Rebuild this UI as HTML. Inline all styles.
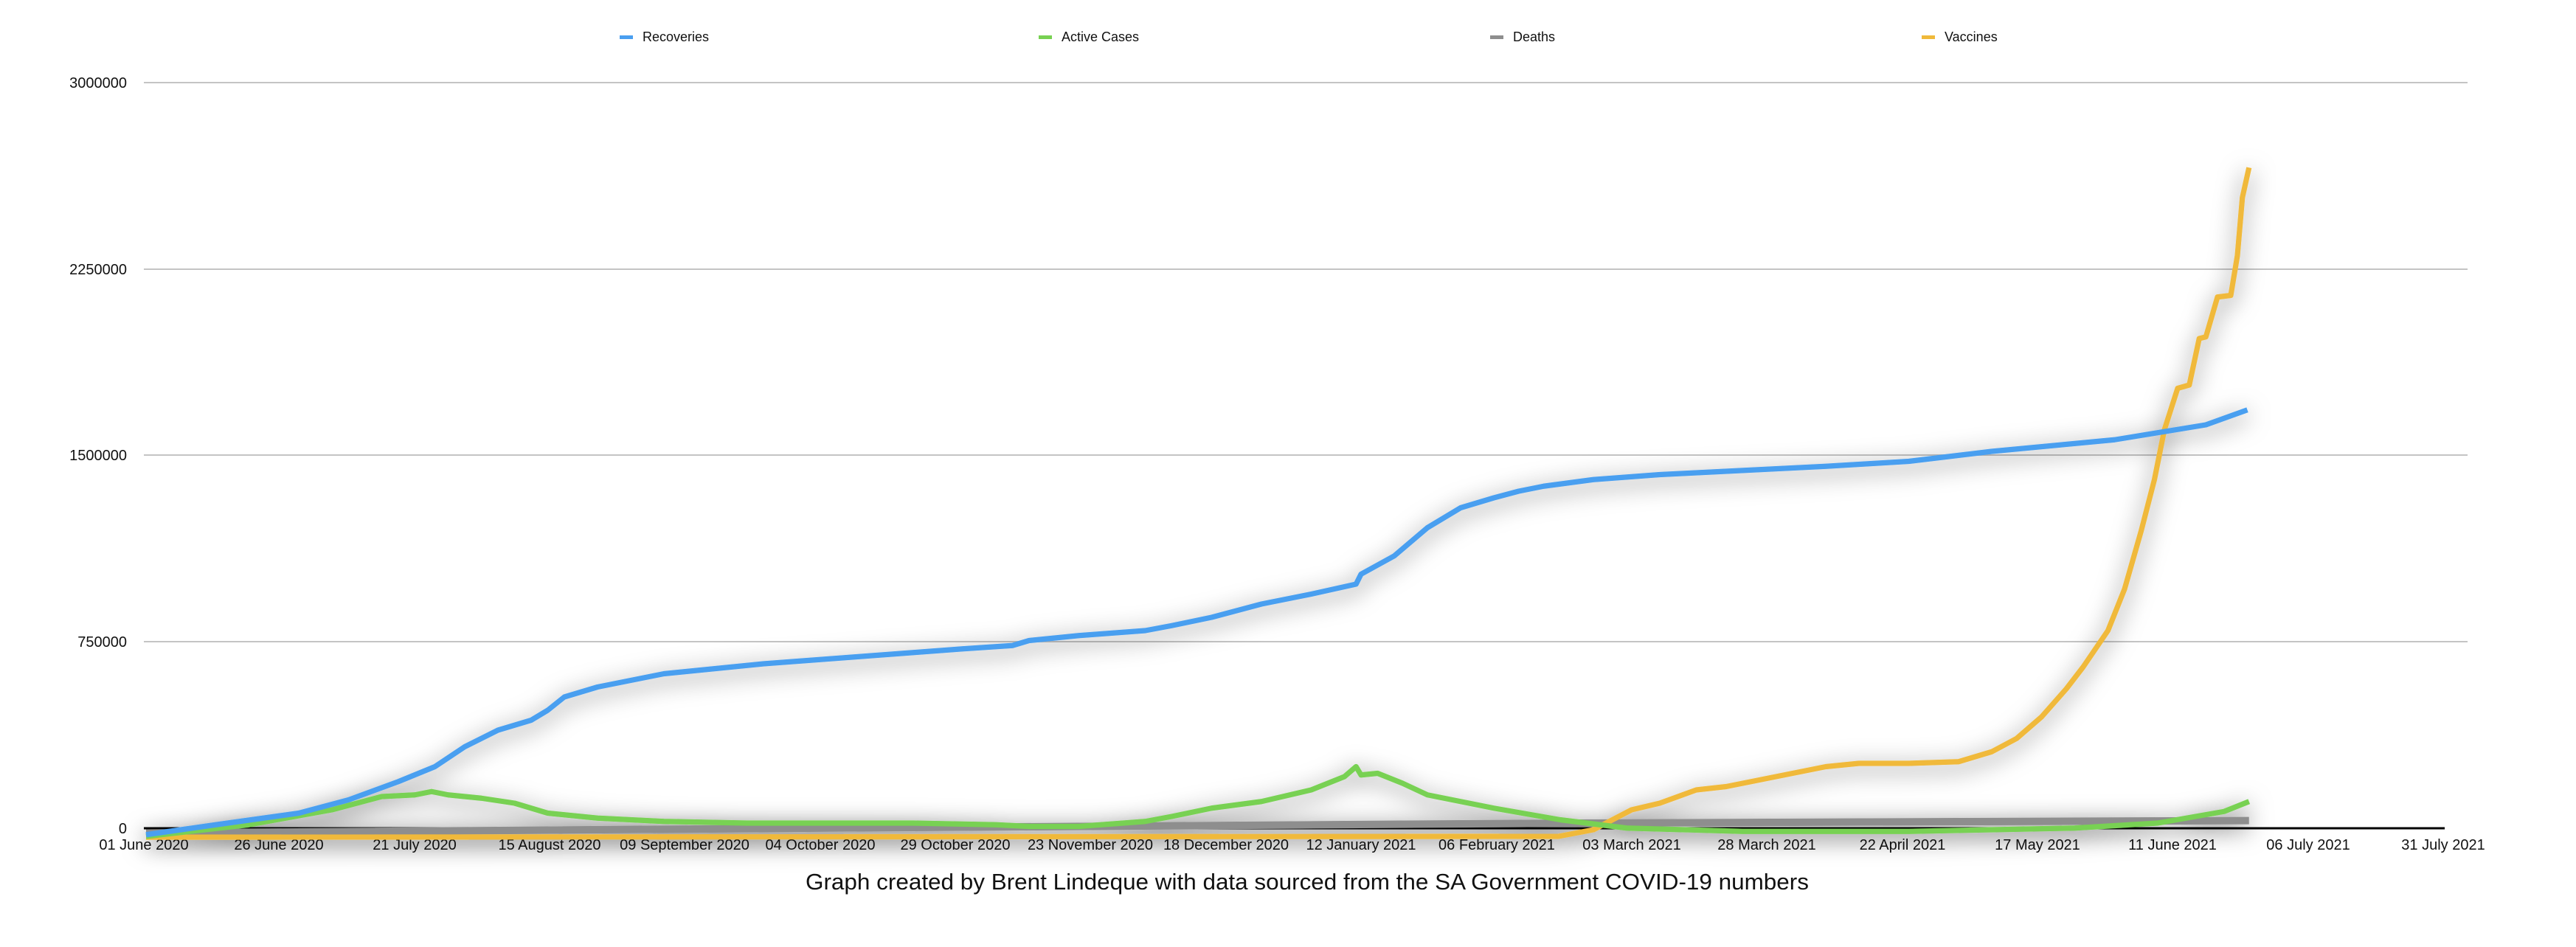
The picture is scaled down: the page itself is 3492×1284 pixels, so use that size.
<!DOCTYPE html>
<html><head><meta charset="utf-8"><style>
html,body{margin:0;padding:0;background:#fff}
svg{display:block}
text{font-family:"Liberation Sans",Arial,sans-serif;fill:#111}
</style></head><body>
<svg width="3492" height="1284" viewBox="0 0 3492 1284" xmlns="http://www.w3.org/2000/svg">
<defs>
<filter id="sh" x="-10%" y="-30%" width="120%" height="160%">
<feDropShadow dx="0" dy="3" stdDeviation="7" flood-color="#000" flood-opacity="0.6"/>
</filter>
</defs>
<rect width="3492" height="1284" fill="#fff"/>
<g stroke="#c4c4c4" stroke-width="2">
<line x1="195" y1="112" x2="3345" y2="112"/>
<line x1="195" y1="365" x2="3345" y2="365"/>
<line x1="195" y1="617" x2="3345" y2="617"/>
<line x1="195" y1="870" x2="3345" y2="870"/>
</g>
<line x1="195" y1="1123" x2="3314" y2="1123" stroke="#000" stroke-width="3"/>
<g font-size="20" text-anchor="end">
<text x="172" y="119">3000000</text>
<text x="172" y="372">2250000</text>
<text x="172" y="624">1500000</text>
<text x="172" y="877">750000</text>
<text x="172" y="1130">0</text>
</g>
<g font-size="20" text-anchor="middle">
<text x="195" y="1152">01 June 2020</text>
<text x="378" y="1152">26 June 2020</text>
<text x="562" y="1152">21 July 2020</text>
<text x="745" y="1152">15 August 2020</text>
<text x="928" y="1152">09 September 2020</text>
<text x="1112" y="1152">04 October 2020</text>
<text x="1295" y="1152">29 October 2020</text>
<text x="1478" y="1152">23 November 2020</text>
<text x="1662" y="1152">18 December 2020</text>
<text x="1845" y="1152">12 January 2021</text>
<text x="2029" y="1152">06 February 2021</text>
<text x="2212" y="1152">03 March 2021</text>
<text x="2395" y="1152">28 March 2021</text>
<text x="2579" y="1152">22 April 2021</text>
<text x="2762" y="1152">17 May 2021</text>
<text x="2945" y="1152">11 June 2021</text>
<text x="3129" y="1152">06 July 2021</text>
<text x="3312" y="1152">31 July 2021</text>
</g>
<g font-size="18">
<rect x="840" y="48" width="18" height="5" fill="#4a9ff0"/><text x="871" y="56">Recoveries</text>
<rect x="1408" y="48" width="18" height="5" fill="#78d152"/><text x="1439" y="56">Active Cases</text>
<rect x="2020" y="48" width="18" height="5" fill="#8e8e8e"/><text x="2051" y="56">Deaths</text>
<rect x="2605" y="48" width="18" height="5" fill="#f0b93a"/><text x="2636" y="56">Vaccines</text>
</g>
<text x="1772" y="1206" font-size="31" text-anchor="middle" textLength="1360" lengthAdjust="spacingAndGlyphs">Graph created by Brent Lindeque with data sourced from the SA Government COVID-19 numbers</text>
<g transform="scale(2.25)" fill="none" stroke-linejoin="round" stroke-width="3.2" filter="url(#sh)">
<polyline stroke="#8e8e8e" stroke-width="4.5" points="88,502 500,499 950,496 1355,494.5"/>
<polyline stroke="#f0b93a" points="88,504.5 939,504 960,500 983,488 1000,484 1022,476 1040,474 1060,470 1080,466 1100,462 1120,460 1150,460 1180,459 1190,456 1200,453 1215,445 1230,432 1245,415 1255,402 1270,380 1280,355 1290,320 1298,289 1304,259 1312,234 1319,232 1325,204 1329,203 1336,179 1344,178 1348,154 1351,119 1355,101"/>
<polyline stroke="#78d152" points="88,504 150,497 200,488 230,480 250,479 260,477 270,479 290,481 310,484 330,490 360,493 400,495 450,496 500,496 550,496 600,497 620,498 650,498 690,495 706,492 730,487 760,483 790,476 810,468 817,462 820,467 830,466 845,472 860,479 900,487 940,494 980,499 1050,501 1150,501 1200,500 1250,499 1300,496 1340,489 1355,483"/>
<polyline stroke="#4a9ff0" points="88,503 130,497 180,490 210,482 240,471 262,462 280,450 300,440 320,434 330,428 340,420 360,414 380,410 400,406 430,403 460,400 500,397 540,394 580,391 610,389 620,386 650,383 690,380 706,377 730,372 760,364 790,358 817,352 820,346 840,335 860,318 880,306 900,300 915,296 930,293 960,289 1000,286 1060,283 1100,281 1150,278 1200,272 1274,265 1329,256 1354,247"/>
</g>
</svg>
</body></html>
